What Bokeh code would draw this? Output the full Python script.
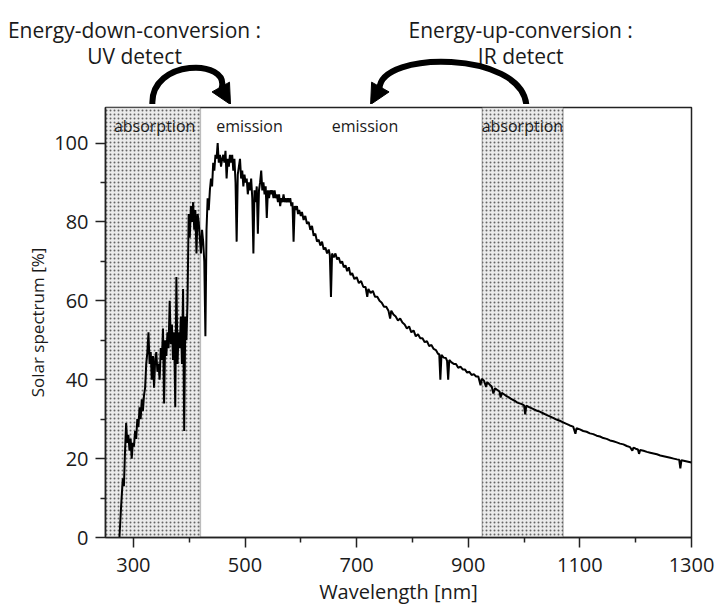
from bokeh.plotting import figure
from bokeh.models import Range1d, FixedTicker, BoxAnnotation, Arrow, NormalHead, Plot
from bokeh.layouts import column
from bokeh.embed import file_html
from bokeh.resources import INLINE
from bokeh.core.properties import value

# ---------------- data ----------------
# (wavelength nm, solar spectrum %)
uv_points = [
    (275, 0), (278, 8), (281, 15), (283, 13), (285, 22), (287, 29), (289, 24), (291, 26), (293, 22),
    (295, 25), (297, 20), (299, 24), (301, 23), (303, 27), (305, 25), (307, 30), (309, 28), (311, 33),
    (313, 30), (315, 35), (317, 32), (319, 36), (321, 38), (323, 44), (325, 47), (327, 52), (329, 44),
    (331, 47), (333, 40), (335, 46), (337, 38), (339, 45), (341, 47), (343, 42), (345, 44), (347, 40),
    (349, 48), (351, 45), (353, 53), (355, 34), (357, 50), (359, 46), (361, 52), (363, 48), (365, 60),
    (367, 49), (369, 54), (371, 45), (373, 52), (375, 33), (377, 66), (379, 44), (381, 52), (383, 48),
    (385, 56), (387, 44), (389, 63), (391, 27), (393, 56), (395, 50), (397, 60), (399, 82), (401, 76),
    (403, 84), (405, 80), (407, 85), (409, 78), (411, 83), (413, 72), (415, 82), (417, 80), (419, 76),
]
visible_points = [
    (421, 72), (423, 78), (425, 75), (427, 70), (429, 51), (431, 78), (433, 86), (435, 83), (437, 88),
    (439, 91), (441, 89), (443, 95), (445, 93), (447, 97), (449, 96), (451, 100), (453, 95), (455, 97),
    (457, 94), (459, 96), (461, 97), (463, 95), (465, 98), (467, 91), (469, 96), (471, 94), (473, 97),
    (475, 95), (477, 97), (479, 93), (481, 96), (483, 90), (485, 75), (487, 92), (489, 94), (491, 96),
    (493, 91), (495, 93), (497, 89), (499, 92), (501, 90), (503, 91), (505, 87), (507, 90), (509, 88),
    (511, 91), (513, 86), (515, 72), (517, 88), (519, 85), (521, 89), (523, 77), (525, 88), (527, 90),
    (529, 93), (531, 88), (533, 90), (535, 87), (537, 89), (539, 81), (541, 88), (543, 86), (545, 88),
    (547, 87), (549, 88), (551, 86), (553, 88), (555, 86), (557, 87), (559, 85), (561, 87), (563, 84),
    (565, 86), (567, 85), (569, 87), (571, 85), (573, 86), (575, 85), (577, 86), (579, 85), (581, 86),
    (583, 84), (585, 85), (587, 75), (589, 84), (591, 83), (593, 84), (595, 82), (597, 83),
]
ir_points = [
    (600, 81.5), (602, 82.5), (605, 80.5), (608, 81.5), (611, 79.5), (614, 80), (617, 78), (620, 79),
    (623, 76.5), (626, 77), (629, 75), (632, 75.5), (635, 74), (638, 75), (641, 73), (644, 73.5),
    (647, 72), (650, 73), (652, 71.5), (654, 61), (656, 72), (659, 71), (662, 72), (665, 70.5),
    (668, 71), (671, 69.5), (674, 70), (677, 68.5), (680, 69), (683, 67.5), (686, 68.5), (689, 66.5),
    (692, 67), (696, 65.5), (700, 66), (704, 64.5), (708, 65), (712, 63.5), (716, 63.5), (719, 61),
    (721, 63), (725, 62), (729, 62.5), (733, 61), (737, 61), (741, 60), (745, 59.5), (749, 58.5),
    (753, 58.5), (757, 57.5), (760, 55.5), (762, 57.5), (766, 56.5), (770, 56), (774, 55), (778, 55.5),
    (782, 54.5), (786, 54), (790, 53), (794, 53.5), (798, 52), (802, 52.5), (806, 51), (810, 51.5),
    (814, 50.5), (818, 50.5), (822, 49.5), (826, 49.8), (830, 48.5), (834, 48.8), (838, 47.8),
    (842, 47.5), (846, 46.5), (848, 46.5), (850, 40), (852, 46.3), (856, 45.6), (860, 45.5),
    (862, 44.8), (864, 40), (866, 45), (870, 44.4), (874, 44), (878, 44), (882, 43), (886, 43.3),
    (890, 42.6), (894, 42.6), (898, 41.8), (902, 42), (906, 41.2), (910, 41.4), (914, 40.8),
    (918, 40.8), (922, 38.6), (924, 40.2), (928, 39.8), (932, 38.2), (934, 39.4), (938, 38.8),
    (942, 38.3), (945, 36.5), (948, 37.8), (952, 37.4), (956, 37), (958, 35.5), (960, 36.7),
    (964, 36.3), (968, 35.9), (972, 35.6), (976, 35.2), (980, 34.9), (984, 34.6), (988, 34.2),
    (992, 34), (996, 33.8), (1000, 33.5), (1002, 31.2), (1004, 33.4), (1010, 33), (1016, 32.6),
    (1022, 32.2), (1028, 31.9), (1034, 31.5), (1040, 31.1), (1046, 30.7), (1052, 30.3), (1058, 29.9),
    (1064, 29.6), (1070, 29.2), (1076, 28.8), (1082, 28.4), (1088, 28.1), (1092, 26.3), (1094, 27.7),
    (1100, 27.4), (1106, 27), (1112, 26.8), (1118, 26.4), (1124, 26.2), (1130, 25.8), (1136, 25.6),
    (1142, 25.2), (1148, 25), (1154, 24.6), (1160, 24.4), (1166, 24.1), (1172, 23.8), (1178, 23.6),
    (1184, 23.2), (1190, 22.9), (1194, 22), (1196, 22.8), (1200, 22.5), (1204, 22.3), (1206, 21.2),
    (1208, 22.2), (1214, 22), (1220, 21.7), (1226, 21.5), (1232, 21.3), (1238, 21.1), (1244, 20.8),
    (1250, 20.6), (1256, 20.4), (1262, 20.2), (1268, 20), (1274, 19.8), (1278, 19.7), (1280, 17.5),
    (1282, 19.6), (1288, 19.4), (1294, 19.2), (1300, 19),
]
all_points = uv_points + visible_points + ir_points
wavelength = [w for w, _ in all_points]
spectrum = [s for _, s in all_points]

x_ticks = [300, 500, 700, 900, 1100, 1300]
x_minor_ticks = [400, 600, 800, 1000, 1200]
y_ticks = [0, 20, 40, 60, 80, 100]
y_minor_ticks = [10, 30, 50, 70, 90]

band_start = [250, 925]
band_end = [420, 1070]

inner_labels = ["absorption", "emission", "emission", "absorption"]
inner_label_x = [338, 508, 715, 997]

title_lines_left = ["Energy-down-conversion :", "UV detect"]
title_lines_right = ["Energy-up-conversion :", "IR detect"]

FONT = "Open Sans"
X0, X1 = 250, 1300
Y0, Y1 = 0, 109
LEFT, RIGHT = 105, 29
W = 720
frame_w = W - LEFT - RIGHT
nm_per_px = (X1 - X0) / frame_w

# ---------------- top strip with the conversion arrows ----------------
top = figure(width=W, height=104, output_backend="svg", toolbar_location=None,
             x_range=Range1d(X0 - LEFT * nm_per_px, X1 + RIGHT * nm_per_px),
             y_range=Range1d(104, 0), min_border=0)
if "frame_align" in Plot.properties():
    top.frame_align = False
top.axis.visible = False
top.grid.visible = False
top.outline_line_color = None

cx_left = 302
cx_right = 994
top.text(x=[cx_left, cx_left], y=[29, 55], text=title_lines_left,
         text_font=value(FONT), text_font_size="21px", text_align="center",
         text_baseline="alphabetic", text_color="#1a1a1a")
top.text(x=[cx_right, cx_right], y=[29, 55], text=title_lines_right,
         text_font=value(FONT), text_font_size="21px", text_align="center",
         text_baseline="alphabetic", text_color="#1a1a1a")

# left arrow (down conversion)
top.bezier(x0=[334], y0=[104], x1=[458], y1=[88], cx0=[330], cy0=[58], cx1=[474], cy1=[58],
           line_color="black", line_width=6, line_cap="round")
top.add_layout(Arrow(end=NormalHead(size=20, fill_color="black", line_color="black"),
                     x_start=458, y_start=88, x_end=474, y_end=104, line_width=6, line_color="black"))
# right arrow (up conversion)
top.bezier(x0=[1004], y0=[104], x1=[741], y1=[88], cx0=[994], cy0=[50], cx1=[743], cy1=[50],
           line_color="black", line_width=6, line_cap="round")
top.add_layout(Arrow(end=NormalHead(size=20, fill_color="black", line_color="black"),
                     x_start=741, y_start=88, x_end=725, y_end=104, line_width=6, line_color="black"))

# ---------------- main chart ----------------
p = figure(width=W, height=510, output_backend="svg", toolbar_location=None,
           x_range=Range1d(X0, X1), y_range=Range1d(Y0, Y1),
           min_border_left=LEFT, min_border_right=RIGHT, min_border_top=3, min_border_bottom=77)
p.grid.visible = False
p.outline_line_color = "#222222"
p.outline_line_width = 1.5

for s, e in zip(band_start, band_end):
    p.add_layout(BoxAnnotation(left=s, right=e, level="underlay",
                               fill_color="#ebebeb", fill_alpha=1.0,
                               hatch_pattern="dot", hatch_color="#444444", hatch_scale=4,
                               hatch_weight=1, hatch_alpha=0.8,
                               line_color="#333333", line_width=1.5))

p.line(wavelength, spectrum, line_color="black", line_width=2)

p.text(x=inner_label_x, y=[104.3] * len(inner_label_x), text=inner_labels,
       text_font=value(FONT), text_font_size="16px", text_align="center",
       text_baseline="middle", text_color="#1a1a1a")

p.xaxis.ticker = FixedTicker(ticks=x_ticks, minor_ticks=x_minor_ticks)
p.yaxis.ticker = FixedTicker(ticks=y_ticks, minor_ticks=y_minor_ticks)
p.xaxis.axis_label = "Wavelength [nm]"
p.yaxis.axis_label = "Solar spectrum [%]"
for ax in (p.xaxis, p.yaxis):
    ax.axis_line_color = "#222222"
    ax.axis_line_width = 1.5
    ax.major_tick_line_color = "#222222"
    ax.major_tick_line_width = 1.5
    ax.minor_tick_line_color = "#222222"
    ax.minor_tick_line_width = 1.5
    ax.major_tick_in = 0
    ax.major_tick_out = 10
    ax.minor_tick_in = 0
    ax.minor_tick_out = 5
    ax.major_label_text_font = FONT
    ax.major_label_text_font_size = "20px"
    ax.major_label_text_color = "#1a1a1a"
    ax.axis_label_text_font = FONT
    ax.axis_label_text_font_style = "normal"
    ax.axis_label_text_color = "#1a1a1a"
p.xaxis.axis_label_text_font_size = "20px"
p.yaxis.axis_label_text_font_size = "17px"
p.xaxis.major_label_standoff = 10
p.yaxis.major_label_standoff = 7
p.xaxis.axis_label_standoff = 3
p.yaxis.axis_label_standoff = 2

layout = column(top, p, spacing=0)
open("out.html", "w").write(file_html(layout, INLINE))
